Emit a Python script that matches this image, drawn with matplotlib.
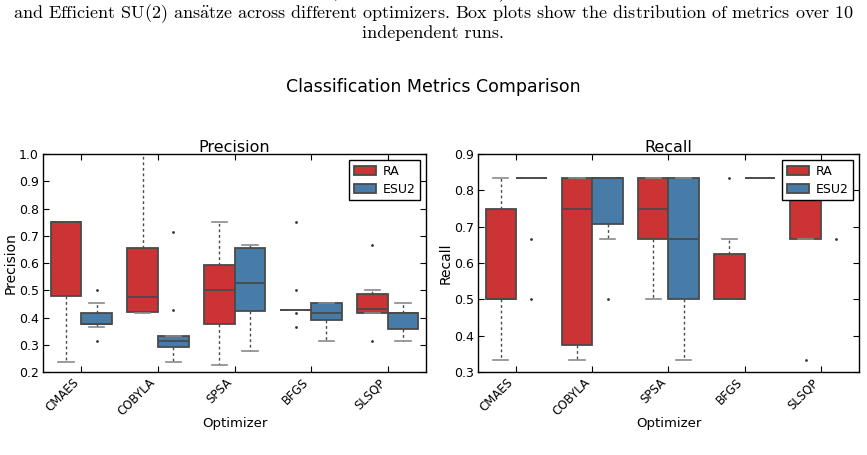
import matplotlib
matplotlib.use("Agg")
import matplotlib.pyplot as plt
from matplotlib.patches import Patch

plt.rcParams["mathtext.fontset"] = "cm"

# categories
optimizers = ["CMAES", "COBYLA", "SPSA", "BFGS", "SLSQP"]
ansatze = ["RA", "ESU2"]

# Precision box statistics, one value per optimizer
prec_ra_q1 = [0.478, 0.420, 0.376, 0.4286, 0.4154]
prec_ra_med = [0.750, 0.476, 0.500, 0.4286, 0.430]
prec_ra_q3 = [0.750, 0.656, 0.594, 0.4286, 0.485]
prec_ra_lo = [0.238, 0.417, 0.226, 0.4286, 0.4154]
prec_ra_hi = [0.750, 1.000, 0.750, 0.4286, 0.500]
prec_ra_fliers = [[], [], [], [0.75, 0.50, 0.4167, 0.3636], [0.6667, 0.3125]]

prec_esu_q1 = [0.375, 0.292, 0.4227, 0.391, 0.358]
prec_esu_med = [0.375, 0.3125, 0.5255, 0.4154, 0.4167]
prec_esu_q3 = [0.4167, 0.333, 0.655, 0.4545, 0.4167]
prec_esu_lo = [0.3636, 0.2364, 0.277, 0.3125, 0.3125]
prec_esu_hi = [0.4545, 0.333, 0.665, 0.4545, 0.4545]
prec_esu_fliers = [[0.50, 0.3125], [0.7143, 0.4286], [], [], []]

# Recall box statistics
rec_ra_q1 = [0.500, 0.375, 0.6667, 0.500, 0.6667]
rec_ra_med = [0.500, 0.750, 0.750, 0.500, 0.8333]
rec_ra_q3 = [0.750, 0.8333, 0.8333, 0.625, 0.8333]
rec_ra_lo = [0.3333, 0.3333, 0.500, 0.500, 0.6667]
rec_ra_hi = [0.8333, 0.8333, 0.8333, 0.6667, 0.8333]
rec_ra_fliers = [[], [], [], [0.8333], [0.3333]]

rec_esu_q1 = [0.8333, 0.7083, 0.500, 0.8333, 0.8333]
rec_esu_med = [0.8333, 0.8333, 0.6667, 0.8333, 0.8333]
rec_esu_q3 = [0.8333, 0.8333, 0.8333, 0.8333, 0.8333]
rec_esu_lo = [0.8333, 0.6667, 0.3333, 0.8333, 0.8333]
rec_esu_hi = [0.8333, 0.8333, 0.8333, 0.8333, 0.8333]
rec_esu_fliers = [[0.6667, 0.50], [0.50], [], [], [0.6667]]

colors = ["#cb3335", "#477ca8"]
edge = "#4a4a4a"

caption_1 = ("Figure 4: Comparison of classification metrics (Precision and Recall) "
             "for the Quantum classifier using Real Amplitudes")
caption_2 = ("and Efficient SU(2) ans$\\ddot{\\mathrm{a}}$tze across different optimizers. "
             "Box plots show the distribution of metrics over 10")
caption_3 = "independent runs."


def make_stats(q1, med, q3, lo, hi, fl):
    return [dict(q1=a, med=b, q3=c, whislo=d, whishi=e, fliers=f)
            for a, b, c, d, e, f in zip(q1, med, q3, lo, hi, fl)]


def draw_panel(ax, groups, title, ylabel, ylim, yticks):
    n = len(optimizers)
    for k, stats in enumerate(groups):
        pos = [i - 0.2 + 0.4 * k for i in range(n)]
        ax.bxp(stats, positions=pos, widths=0.4, capwidths=0.2,
               patch_artist=True, manage_ticks=False,
               boxprops=dict(facecolor=colors[k], edgecolor=edge, linewidth=1.3),
               medianprops=dict(color=edge, linewidth=1.3),
               whiskerprops=dict(color=edge, linewidth=1.0, linestyle=(0, (2, 2))),
               capprops=dict(color="#8a8a8a", linewidth=1.2),
               flierprops=dict(marker="o", markersize=2, markeredgewidth=0,
                               markerfacecolor="#333333", linestyle="none"))
    ax.set_xlim(-0.5, n - 0.5)
    ax.set_ylim(*ylim)
    ax.set_yticks(yticks)
    ax.set_yticklabels(["%.1f" % t for t in yticks], fontsize=9)
    ax.set_xticks(range(n))
    ax.set_xticklabels(optimizers, rotation=45, ha="right", fontsize=8.5)
    ax.tick_params(direction="in", length=4, width=0.8, top=True, right=True, pad=3)
    for sp in ax.spines.values():
        sp.set_linewidth(1.0)
        sp.set_color("black")
    ax.set_title(title, fontsize=11.5, pad=1.5)
    ax.set_ylabel(ylabel, fontsize=10, labelpad=1)
    ax.set_xlabel("Optimizer", fontsize=9.5, labelpad=-1)
    handles = [Patch(facecolor=colors[k], edgecolor=edge, linewidth=1.3, label=ansatze[k])
               for k in range(2)]
    leg = ax.legend(handles=handles, loc="upper right", fontsize=9, fancybox=False,
                    framealpha=1, edgecolor="black", borderaxespad=0.5,
                    borderpad=0.35, handlelength=1.8, handleheight=0.7,
                    handletextpad=0.5, labelspacing=0.4)
    leg.get_frame().set_linewidth(1.0)


fig = plt.figure(figsize=(8.67, 4.55), dpi=100)
fig.patch.set_facecolor("white")

ax1 = fig.add_axes([0.0496, 0.1824, 0.4418, 0.479])
ax2 = fig.add_axes([0.5513, 0.1824, 0.4394, 0.479])

draw_panel(ax1,
           [make_stats(prec_ra_q1, prec_ra_med, prec_ra_q3, prec_ra_lo, prec_ra_hi, prec_ra_fliers),
            make_stats(prec_esu_q1, prec_esu_med, prec_esu_q3, prec_esu_lo, prec_esu_hi, prec_esu_fliers)],
           "Precision", "Precision", (0.2, 1.0), [0.2, 0.3, 0.4, 0.5, 0.6, 0.7, 0.8, 0.9, 1.0])
draw_panel(ax2,
           [make_stats(rec_ra_q1, rec_ra_med, rec_ra_q3, rec_ra_lo, rec_ra_hi, rec_ra_fliers),
            make_stats(rec_esu_q1, rec_esu_med, rec_esu_q3, rec_esu_lo, rec_esu_hi, rec_esu_fliers)],
           "Recall", "Recall", (0.3, 0.9), [0.3, 0.4, 0.5, 0.6, 0.7, 0.8, 0.9])

fig.text(0.5, 0.809, "Classification Metrics Comparison", ha="center", va="center", fontsize=12.5)

serif = ["cmr10", "DejaVu Serif"]
fig.text(0.5, 1.016, caption_1, ha="center", va="center", fontsize=13, family=serif)
fig.text(0.5, 0.971, caption_2, ha="center", va="center", fontsize=13, family=serif)
fig.text(0.5, 0.927, caption_3, ha="center", va="center", fontsize=13, family=serif)

fig.savefig("out.png", dpi=100, facecolor="white")
